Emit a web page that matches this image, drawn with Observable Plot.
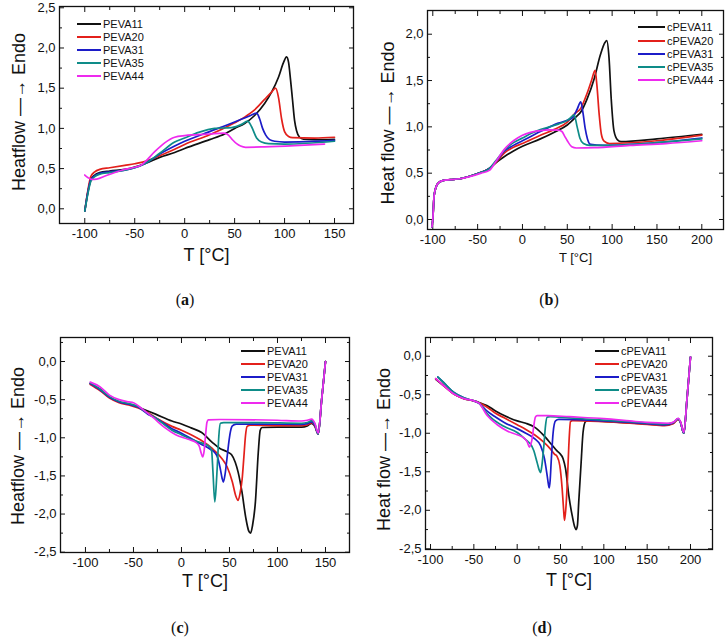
<!DOCTYPE html>
<html><head><meta charset="utf-8">
<script src="https://cdn.jsdelivr.net/npm/d3@7"></script>
<script src="https://cdn.jsdelivr.net/npm/@observablehq/plot@0.6"></script>
<style>
body{margin:0;background:#fff;}
#root{position:relative;width:728px;height:637px;overflow:hidden;background:#fff;font-family:"Liberation Sans",Arial,sans-serif;}
.panel{position:absolute;}
.legend{position:absolute;font-size:11px;color:#111;}
.legend .row{display:flex;align-items:center;white-space:nowrap;}
.legend .sw{display:inline-block;height:0;border-top:2px solid;margin-right:2px;}
.cap{position:absolute;font-family:"Liberation Serif","Times New Roman",serif;font-size:16px;transform:translate(-50%,-50%);color:#111;}
</style></head><body><div id="root"></div>
<script>
// ---------- series names & colours ----------
const namesAB = ["PEVA11","PEVA20","PEVA31","PEVA35","PEVA44"];
const colors = ["#111111","#e3201b","#1c1cc8","#0e8c88","#ee2aee"];

// ---------- panel (a): heating, PEVA ----------
const a11 = [[-100,-0.03],[-97,0.2],[-94,0.36],[-90,0.42],[-85,0.45],[-75,0.47],[-60,0.49],[-50,0.52],[-40,0.56],[-25,0.64],[-10,0.7],[0,0.75],[25,0.86],[40,0.93],[50,1.0],[60,1.06],[70,1.16],[80,1.31],[87,1.45],[94,1.64],[99,1.82],[102,1.89],[104,1.82],[106,1.6],[108,1.35],[110,1.1],[112,0.97],[115,0.89],[119,0.865],[130,0.86],[150,0.865]];
const a20 = [[-100,-0.03],[-97,0.22],[-94,0.4],[-90,0.46],[-85,0.49],[-75,0.51],[-60,0.54],[-50,0.56],[-42,0.58],[-35,0.61],[-25,0.66],[-10,0.74],[0,0.8],[25,0.92],[50,1.07],[60,1.14],[70,1.23],[80,1.36],[87,1.45],[91,1.5],[94,1.38],[97,1.12],[100,0.96],[104,0.9],[108,0.885],[130,0.88],[150,0.89]];
const a31 = [[-100,-0.03],[-97,0.2],[-94,0.36],[-90,0.41],[-85,0.44],[-75,0.46],[-60,0.48],[-50,0.51],[-40,0.56],[-25,0.68],[-10,0.78],[0,0.84],[25,0.96],[50,1.08],[60,1.13],[66,1.16],[72,1.19],[75,1.12],[78,1.0],[81,0.92],[85,0.86],[90,0.84],[100,0.83],[150,0.85]];
const a35 = [[-100,-0.03],[-97,0.18],[-94,0.34],[-90,0.4],[-85,0.43],[-75,0.45],[-60,0.48],[-50,0.51],[-40,0.56],[-25,0.69],[-10,0.83],[0,0.88],[14,0.95],[30,1.0],[47,1.01],[57,1.05],[63,1.09],[67,1.02],[72,0.88],[77,0.83],[84,0.81],[100,0.805],[150,0.84]];
const a44 = [[-100,0.42],[-97,0.39],[-93,0.365],[-88,0.37],[-79,0.41],[-63,0.48],[-49,0.52],[-44,0.54],[-40,0.58],[-30,0.71],[-20,0.82],[-10,0.89],[0,0.91],[10,0.92],[25,0.93],[39,0.94],[43,0.925],[47,0.87],[52,0.81],[56,0.78],[61,0.765],[80,0.77],[110,0.785],[140,0.805]];

// ---------- panel (b): heating, cPEVA ----------
const b11 = [[-101,-0.08],[-100,0.0],[-98.5,0.26],[-96,0.36],[-93,0.4],[-89,0.42],[-80,0.43],[-70,0.44],[-58,0.47],[-46,0.51],[-37,0.55],[-30,0.61],[-20,0.68],[-10,0.74],[0,0.79],[20,0.87],[35,0.94],[50,1.02],[60,1.11],[65,1.16],[72,1.3],[80,1.52],[87,1.78],[92,1.91],[94,1.93],[96.5,1.75],[99,1.3],[102,0.96],[106,0.86],[110,0.84],[150,0.87],[200,0.92]];
const b20 = [[-101,-0.08],[-100,0.0],[-98.5,0.26],[-96,0.36],[-93,0.4],[-89,0.42],[-80,0.43],[-70,0.44],[-58,0.47],[-46,0.51],[-37,0.55],[-30,0.61],[-20,0.72],[-10,0.78],[0,0.82],[20,0.91],[35,0.97],[50,1.05],[58,1.14],[65,1.2],[72,1.36],[77,1.5],[81,1.61],[83,1.45],[85.5,1.14],[88,0.92],[91,0.845],[97,0.82],[150,0.85],[200,0.91]];
const b31 = [[-101,-0.08],[-100,0.0],[-98.5,0.26],[-96,0.36],[-93,0.4],[-89,0.42],[-80,0.43],[-70,0.44],[-58,0.47],[-46,0.51],[-37,0.55],[-30,0.62],[-20,0.74],[-10,0.8],[0,0.85],[20,0.95],[40,1.04],[50,1.07],[56,1.1],[61,1.19],[65,1.27],[67.5,1.15],[70,0.98],[72.5,0.87],[76,0.81],[90,0.8],[150,0.83],[200,0.88]];
const b35 = [[-101,-0.08],[-100,0.0],[-98.5,0.26],[-96,0.36],[-93,0.4],[-89,0.42],[-80,0.43],[-70,0.44],[-58,0.47],[-46,0.51],[-37,0.55],[-30,0.63],[-20,0.75],[-10,0.83],[0,0.88],[10,0.93],[20,0.97],[30,1.0],[40,1.03],[50,1.07],[55,1.11],[57.6,1.13],[61,1.0],[64,0.88],[68,0.82],[75,0.8],[100,0.8],[150,0.83],[200,0.87]];
const b44 = [[-101,-0.08],[-100,0.0],[-98.5,0.26],[-96,0.36],[-93,0.4],[-89,0.42],[-80,0.43],[-70,0.44],[-58,0.465],[-46,0.5],[-37,0.53],[-30,0.62],[-20,0.76],[-10,0.85],[0,0.91],[9,0.94],[20,0.96],[30,0.967],[40,0.965],[44,0.95],[47,0.9],[50,0.85],[55,0.785],[60,0.772],[80,0.775],[120,0.8],[160,0.82],[200,0.85]];

// ---------- panel (c): cooling, PEVA ----------
const c11 = [[-95,-0.29],[-85,-0.36],[-75,-0.47],[-65,-0.53],[-55,-0.56],[-45,-0.6],[-35,-0.65],[-27,-0.69],[-10,-0.78],[0,-0.82],[10,-0.87],[21,-0.93],[32,-1.06],[40,-1.14],[47,-1.18],[52,-1.22],[56,-1.32],[59,-1.45],[63,-1.71],[67,-2.05],[70,-2.22],[72,-2.25],[74,-2.15],[77,-1.84],[80,-1.19],[82,-0.9],[84,-0.865],[100,-0.86],[125,-0.86],[131,-0.845],[135.5,-0.81],[139,-0.85],[142.4,-0.95],[146,-0.5],[150,0.0]];
const c20 = [[-95,-0.3],[-85,-0.38],[-75,-0.48],[-65,-0.54],[-55,-0.57],[-45,-0.61],[-35,-0.67],[-25,-0.75],[-10,-0.85],[0,-0.9],[10,-0.96],[20,-1.03],[32,-1.14],[42,-1.27],[47.5,-1.38],[53,-1.58],[56.5,-1.76],[59,-1.82],[61,-1.73],[63.2,-1.54],[65,-1.25],[66.7,-0.97],[68.4,-0.85],[72,-0.835],[100,-0.84],[125,-0.84],[131,-0.83],[135.5,-0.8],[139,-0.85],[142.4,-0.95],[146,-0.5],[150,0.0]];
const c31 = [[-95,-0.29],[-85,-0.37],[-75,-0.47],[-65,-0.53],[-55,-0.56],[-45,-0.6],[-35,-0.69],[-27,-0.74],[-10,-0.88],[0,-0.94],[10,-1.01],[20,-1.08],[30,-1.15],[35,-1.2],[38,-1.27],[40.5,-1.41],[42.3,-1.53],[43.6,-1.58],[45.4,-1.48],[47.3,-1.28],[49.3,-1.06],[51,-0.92],[53,-0.845],[57,-0.822],[80,-0.82],[125,-0.825],[131,-0.815],[135.5,-0.79],[139,-0.84],[142.4,-0.95],[146,-0.5],[150,0.0]];
const c35 = [[-95,-0.28],[-85,-0.36],[-75,-0.46],[-65,-0.52],[-55,-0.55],[-45,-0.59],[-35,-0.68],[-27,-0.74],[-10,-0.9],[0,-0.96],[10,-1.02],[21.5,-1.07],[28.5,-1.11],[31.3,-1.16],[32.8,-1.45],[34.7,-1.84],[36.3,-1.6],[37.6,-1.3],[38.9,-0.98],[40.6,-0.81],[44,-0.8],[80,-0.8],[125,-0.81],[131,-0.8],[135.5,-0.775],[139,-0.82],[142.4,-0.95],[146,-0.5],[150,0.0]];
const c44 = [[-95,-0.27],[-85,-0.33],[-75,-0.44],[-65,-0.5],[-55,-0.53],[-50,-0.54],[-44,-0.59],[-37,-0.66],[-30,-0.73],[-17,-0.87],[-6,-0.96],[7,-1.02],[15,-1.06],[18.5,-1.11],[20.5,-1.2],[22,-1.25],[23.5,-1.18],[25,-0.98],[26.5,-0.8],[28,-0.765],[40,-0.76],[100,-0.77],[125,-0.78],[131,-0.77],[135.5,-0.755],[139,-0.81],[142.4,-0.94],[146,-0.5],[150,0.0]];

// ---------- panel (d): cooling, cPEVA ----------
const d11 = [[-94,-0.3],[-85,-0.38],[-73,-0.49],[-61.5,-0.55],[-50,-0.58],[-44,-0.6],[-35,-0.64],[-25,-0.71],[-15,-0.77],[0,-0.84],[10,-0.87],[20,-0.92],[30,-1.02],[40,-1.15],[46,-1.23],[49,-1.26],[53,-1.33],[55.8,-1.46],[59.6,-1.81],[63.5,-2.07],[66.5,-2.22],[68,-2.25],[69.5,-2.2],[71,-1.9],[73.8,-1.38],[76,-0.99],[78.8,-0.85],[82,-0.835],[100,-0.845],[130,-0.865],[150,-0.88],[170,-0.895],[180,-0.87],[185.8,-0.815],[188.5,-0.86],[192.3,-1.0],[196,-0.55],[200,-0.01]];
const d20 = [[-94,-0.29],[-85,-0.38],[-73,-0.49],[-61.5,-0.55],[-50,-0.58],[-44,-0.605],[-35,-0.66],[-25,-0.74],[-15,-0.8],[0,-0.89],[10,-0.95],[20,-1.02],[30,-1.11],[38,-1.2],[43,-1.27],[46,-1.3],[49.2,-1.42],[51.9,-1.72],[53.5,-1.98],[54.6,-2.13],[56,-2.0],[57.7,-1.68],[59.6,-1.16],[61.5,-0.85],[64,-0.835],[100,-0.85],[130,-0.87],[150,-0.885],[170,-0.9],[180,-0.875],[185.8,-0.82],[188.5,-0.86],[192.3,-1.0],[196,-0.55],[200,-0.01]];
const d31 = [[-91.5,-0.27],[-85,-0.34],[-73,-0.47],[-61.5,-0.54],[-50,-0.58],[-44,-0.61],[-35,-0.71],[-25,-0.79],[-15,-0.86],[0,-0.94],[10,-1.0],[20,-1.07],[27,-1.16],[31.5,-1.33],[34.6,-1.55],[36,-1.66],[37,-1.71],[38,-1.62],[39.2,-1.38],[41.5,-0.99],[44.2,-0.84],[48,-0.82],[100,-0.84],[130,-0.86],[150,-0.875],[170,-0.89],[180,-0.865],[185.8,-0.815],[188.5,-0.86],[192.3,-1.0],[196,-0.55],[200,-0.01]];
const d35 = [[-91.5,-0.27],[-85,-0.34],[-73,-0.47],[-61.5,-0.54],[-50,-0.58],[-44,-0.61],[-35,-0.74],[-30.8,-0.79],[-15.4,-0.91],[0,-0.99],[11.5,-1.1],[15.4,-1.14],[19,-1.22],[23,-1.38],[25.5,-1.48],[27,-1.51],[28.5,-1.42],[30.8,-1.16],[32.7,-0.9],[34.6,-0.79],[38,-0.785],[60,-0.8],[100,-0.83],[130,-0.85],[150,-0.865],[170,-0.88],[180,-0.86],[185.8,-0.81],[188.5,-0.86],[192.3,-1.0],[196,-0.55],[200,-0.01]];
const d44 = [[-94,-0.29],[-85,-0.38],[-73,-0.49],[-61.5,-0.55],[-50,-0.58],[-44,-0.61],[-34.6,-0.77],[-23,-0.89],[-11.5,-0.97],[0,-1.02],[7.7,-1.06],[11.5,-1.11],[14.2,-1.18],[15.8,-1.14],[17.3,-1.07],[19.2,-0.9],[21,-0.79],[23,-0.77],[35,-0.77],[60,-0.785],[100,-0.81],[130,-0.84],[150,-0.86],[175,-0.87],[181,-0.85],[185.8,-0.805],[188.5,-0.85],[192.3,-0.99],[196,-0.55],[200,-0.01]];

// ---------- tick values ----------
const xTicksA = [-100,-50,0,50,100,150], xMinorA = [-75,-25,25,75,125];
const yTicksA = [0,0.5,1,1.5,2,2.5], yMinorA = [0.25,0.75,1.25,1.75,2.25];
const xTicksB = [-100,-50,0,50,100,150,200], xMinorB = [-75,-25,25,75,125,175];
const yTicksB = [0,0.5,1,1.5,2], yMinorB = [0.25,0.75,1.25,1.75];
const xTicksC = [-100,-50,0,50,100,150], xMinorC = [-75,-25,25,75,125];
const yTicksC = [-2.5,-2,-1.5,-1,-0.5,0], yMinorC = [-2.25,-1.75,-1.25,-0.75,-0.25,0.25];
const xTicksD = [-100,-50,0,50,100,150,200], xMinorD = [-75,-25,25,75,125,175];
const yTicksD = [-2.5,-2,-1.5,-1,-0.5,0], yMinorD = [-2.25,-1.75,-1.25,-0.75,-0.25];

const yfmt = d => (d < 0 ? "-" : "") + Math.abs(d).toFixed(1).replace(".", ",");
const xfmt = d => String(d);
const root = document.getElementById("root");

function panel(cfg) {
  const {left, top, W, H, frame, xdom, ydom, xt, xm, yt, ym, data, xtitle, xtSize, xtDy, ytitle, ytDx, ytDy} = cfg;
  const [fl, ft, fr, fb] = frame;
  const rows = [];
  data.forEach((pts, i) => pts.forEach(([x, y]) => rows.push({x, y, s: i})));
  const blank = () => "";
  const marks = [
    Plot.frame({stroke: "#111", strokeWidth: 1.3}),
    Plot.axisX(xt, {tickSize: 0, tickPadding: 5, tickFormat: xfmt, label: null, fontSize: 13}),
    Plot.axisY(yt, {tickSize: 0, tickPadding: 4, tickFormat: yfmt, label: null, fontSize: 13}),
    Plot.axisX(xt, {anchor: "bottom", tickSize: -5, tickFormat: blank, label: null}),
    Plot.axisX(xm, {anchor: "bottom", tickSize: -3, tickFormat: blank, label: null}),
    Plot.axisX(xt, {anchor: "top", tickSize: -5, tickFormat: blank, label: null}),
    Plot.axisX(xm, {anchor: "top", tickSize: -3, tickFormat: blank, label: null}),
    Plot.axisY(yt, {anchor: "left", tickSize: -5, tickFormat: blank, label: null}),
    Plot.axisY(ym, {anchor: "left", tickSize: -3, tickFormat: blank, label: null}),
    Plot.axisY(yt, {anchor: "right", tickSize: -5, tickFormat: blank, label: null}),
    Plot.axisY(ym, {anchor: "right", tickSize: -3, tickFormat: blank, label: null}),
    Plot.line(rows, {x: "x", y: "y", z: "s", stroke: d => colors[d.s], strokeWidth: 1.7, curve: "monotone-x"}),
    Plot.text([xtitle], {text: d => d, frameAnchor: "bottom", dy: xtDy, fontSize: xtSize, fill: "#111"}),
    Plot.text([ytitle], {text: d => d, frameAnchor: "left", rotate: -90, dx: ytDx, dy: ytDy, fontSize: 18, fill: "#111", textAnchor: "middle"})
  ];
  const svg = Plot.plot({
    width: W, height: H,
    marginLeft: fl - left, marginTop: ft - top, marginRight: left + W - fr, marginBottom: top + H - fb,
    x: {domain: xdom}, y: {domain: ydom},
    style: {fontFamily: "Liberation Sans, Arial, sans-serif", color: "#111", background: "transparent", overflow: "visible"},
    marks
  });
  const div = document.createElement("div");
  div.className = "panel";
  div.style.left = left + "px"; div.style.top = top + "px";
  div.appendChild(svg);
  root.appendChild(div);
}

function legend(names, x, y0, step, lineW, fontSize) {
  const lg = document.createElement("div");
  lg.className = "legend";
  lg.style.left = x + "px"; lg.style.top = (y0 - step / 2) + "px"; lg.style.fontSize = fontSize + "px";
  names.forEach((n, i) => {
    const r = document.createElement("div");
    r.className = "row"; r.style.height = step + "px";
    const sw = document.createElement("span");
    sw.className = "sw"; sw.style.width = lineW + "px"; sw.style.borderColor = colors[i];
    r.appendChild(sw);
    r.appendChild(document.createTextNode(n));
    lg.appendChild(r);
  });
  root.appendChild(lg);
}

function caption(letter, cx, cy) {
  const c = document.createElement("div");
  c.className = "cap"; c.style.left = cx + "px"; c.style.top = cy + "px";
  c.innerHTML = "(<b>" + letter + "</b>)";
  root.appendChild(c);
}

const namesC = namesAB.map(n => "c" + n);

panel({left: 0, top: 0, W: 364, H: 280, frame: [59, 6, 353, 223], xdom: [-125.3, 169], ydom: [-0.183, 2.516],
  xt: xTicksA, xm: xMinorA, yt: yTicksA, ym: yMinorA, data: [a11, a20, a31, a35, a44],
  xtitle: "T [°C]", xtSize: 18, xtDy: 37, ytitle: "Heatflow —→ Endo", ytDx: -40, ytDy: -3});
panel({left: 364, top: 0, W: 364, H: 280, frame: [427, 10, 723, 229], xdom: [-105.9, 224.2], ydom: [-0.108, 2.256],
  xt: xTicksB, xm: xMinorB, yt: yTicksB, ym: yMinorB, data: [b11, b20, b31, b35, b44],
  xtitle: "T [°C]", xtSize: 13, xtDy: 32, ytitle: "Heat flow —→ Endo", ytDx: -39, ytDy: 3});
panel({left: 0, top: 318, W: 364, H: 282, frame: [60, 337, 349, 552], xdom: [-126, 175], ydom: [-2.504, 0.315],
  xt: xTicksC, xm: xMinorC, yt: yTicksC, ym: yMinorC, data: [c11, c20, c31, c35, c44],
  xtitle: "T [°C]", xtSize: 18, xtDy: 34, ytitle: "Heatflow —→ Endo", ytDx: -42, ytDy: 1});
panel({left: 364, top: 318, W: 364, H: 282, frame: [425, 337, 712, 549], xdom: [-105.8, 225.4], ydom: [-2.509, 0.243],
  xt: xTicksD, xm: xMinorD, yt: yTicksD, ym: yMinorD, data: [d11, d20, d31, d35, d44],
  xtitle: "T [°C]", xtSize: 18, xtDy: 36, ytitle: "Heat flow —→ Endo", ytDx: -41, ytDy: 6});

legend(namesAB, 77, 24, 13, 24, 11);
legend(namesC, 638, 27.3, 13.3, 27, 11);
legend(namesAB, 241, 350.7, 13.2, 24, 11);
legend(namesC, 595, 350.7, 13.2, 24, 11);

caption("a", 185, 300);
caption("b", 549, 300);
caption("c", 180, 628);
caption("d", 542, 628);
</script></body></html>
